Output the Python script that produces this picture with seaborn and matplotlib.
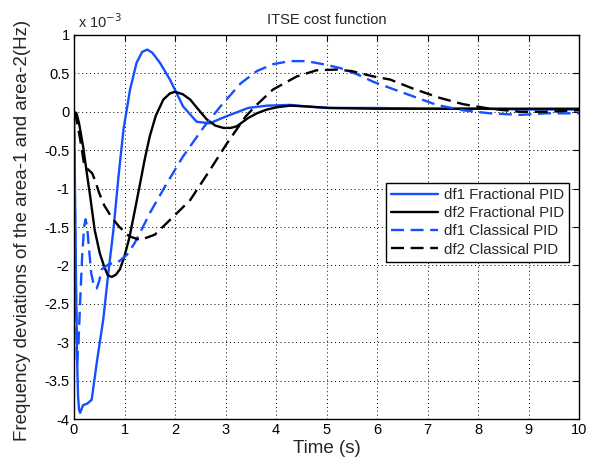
import numpy as np
import pandas as pd
import matplotlib
matplotlib.use('Agg')
import matplotlib.pyplot as plt
import seaborn as sns

# values, y in units of 1e-3 Hz
t_df1_frac = [0, 0.02, 0.04, 0.06, 0.08, 0.1, 0.12, 0.18, 0.26, 0.35, 0.45, 0.58, 0.68, 0.78, 0.88, 0.98,
              1.11, 1.24, 1.35, 1.45, 1.55, 1.7, 1.9, 2.16, 2.43, 2.69, 2.9, 3.09, 3.45, 3.82, 4.28, 4.6,
              5.0, 6.0, 7.0, 8.0, 9.0, 10.0]
y_df1_frac = [0, -1.0, -2.2, -3.2, -3.7, -3.88, -3.92, -3.82, -3.8, -3.75, -3.27, -2.7, -2.1, -1.54, -0.85, -0.23,
              0.29, 0.64, 0.78, 0.81, 0.77, 0.64, 0.42, 0.07, -0.13, -0.15, -0.09, -0.04, 0.05, 0.08, 0.09, 0.07,
              0.05, 0.05, 0.04, 0.04, 0.03, 0.03]

t_df2_frac = [0, 0.05, 0.1, 0.18, 0.25, 0.32, 0.41, 0.51, 0.6, 0.67, 0.75, 0.83, 0.91, 1.0, 1.1, 1.2, 1.31,
              1.4, 1.5, 1.62, 1.77, 1.9, 2.0, 2.15, 2.3, 2.45, 2.63, 2.8, 2.96, 3.1, 3.22, 3.45, 3.62, 3.82,
              4.02, 4.28, 4.6, 5.07, 6, 7, 8, 9, 10]
y_df2_frac = [0, -0.02, -0.15, -0.45, -0.78, -1.1, -1.54, -1.84, -2.02, -2.13, -2.15, -2.12, -2.05, -1.88, -1.63,
              -1.3, -0.93, -0.62, -0.32, -0.05, 0.16, 0.24, 0.26, 0.23, 0.16, 0.04, -0.1, -0.18, -0.21, -0.21,
              -0.19, -0.08, -0.02, 0.03, 0.06, 0.08, 0.07, 0.05, 0.04, 0.04, 0.04, 0.04, 0.04]

t_df1_cls = [0, 0.03, 0.06, 0.09, 0.12, 0.16, 0.2, 0.23, 0.26, 0.3, 0.34, 0.4, 0.45, 0.5, 0.55, 0.7, 0.85,
             1.05, 1.2, 1.35, 1.5, 1.84, 2.16, 2.58, 2.9, 3.3, 3.62, 3.94, 4.28, 4.6, 4.93, 5.27, 5.6, 5.93,
             6.26, 6.72, 7.18, 7.7, 8.24, 8.83, 9.36, 10]
y_df1_cls = [0, -2.0, -3.3, -3.0, -2.5, -1.9, -1.5, -1.4, -1.5, -1.8, -2.1, -2.28, -2.3, -2.2, -2.05, -1.98,
             -1.97, -1.86, -1.71, -1.52, -1.32, -0.93, -0.58, -0.19, 0.07, 0.37, 0.53, 0.62, 0.66, 0.66, 0.62,
             0.57, 0.49, 0.39, 0.31, 0.2, 0.09, 0.02, -0.02, -0.04, -0.02, -0.02]

t_df2_cls = [0, 0.05, 0.12, 0.2, 0.26, 0.36, 0.42, 0.5, 0.6, 0.75, 0.9, 1.09, 1.31, 1.6, 1.96, 2.3, 2.69,
             3.03, 3.22, 3.4, 3.6, 3.94, 4.41, 4.8, 5.2, 5.5, 5.93, 6.26, 6.72, 7.25, 7.7, 8.24, 8.83, 9.36, 10]
y_df2_cls = [0, -0.1, -0.35, -0.68, -0.74, -0.8, -0.9, -1.06, -1.22, -1.38, -1.5, -1.62, -1.67, -1.6, -1.37,
             -1.15, -0.76, -0.41, -0.23, -0.06, 0.08, 0.29, 0.46, 0.54, 0.55, 0.53, 0.46, 0.42, 0.3, 0.18, 0.1,
             0.04, 0.0, 0.0, 0.02]

labels = ['df1 Fractional PID', 'df2 Fractional PID', 'df1 Classical PID', 'df2 Classical PID']

sns.set_theme(style='white')
plt.rcParams['font.family'] = ['Liberation Sans', 'DejaVu Sans']

blue = '#1450ff'
dash = (0, (5.5, 2.8))
lw = 1.7

fig = plt.figure(figsize=(5.97, 4.61), dpi=100)
ax = fig.add_axes([74 / 597, 42 / 461, 505 / 597, 384 / 461])

sns.lineplot(x=t_df1_frac, y=y_df1_frac, color=blue, lw=lw, label=labels[0], ax=ax)
sns.lineplot(x=t_df2_frac, y=y_df2_frac, color='black', lw=lw, label=labels[1], ax=ax)
sns.lineplot(x=t_df1_cls, y=y_df1_cls, color=blue, lw=lw, linestyle=dash, label=labels[2], ax=ax)
sns.lineplot(x=t_df2_cls, y=y_df2_cls, color='black', lw=lw, linestyle=dash, label=labels[3], ax=ax)

ax.set_xlim(0, 10)
ax.set_ylim(-4, 1)
ax.set_xticks(range(0, 11))
ax.set_yticks(np.arange(-4, 1.01, 0.5))
ax.set_yticklabels(['-4', '-3.5', '-3', '-2.5', '-2', '-1.5', '-1', '-0.5', '0', '0.5', '1'])
ax.grid(True, color='black', linestyle=(0, (1, 3)), lw=0.7)
ax.tick_params(direction='in', top=True, right=True, length=4, width=0.8,
               labelsize=10.5, color='black', labelcolor='black', pad=3)
for s in ax.spines.values():
    s.set_color('black')
    s.set_linewidth(1)

ax.set_title('ITSE cost function', fontsize=10.5, pad=8)
ax.set_xlabel('Time (s)', fontsize=13.5)
ax.set_ylabel('Frequency deviations of the area-1 and area-2(Hz)', fontsize=13.5)
ax.xaxis.set_label_coords(0.5, -0.055)
ax.yaxis.set_label_coords(-0.085, 0.49)
fig.text(78 / 597, 1 - 28 / 461, 'x 10$^{-3}$', fontsize=10.5, va='baseline', ha='left')

leg = ax.legend(loc='upper left', bbox_to_anchor=(0.618, 0.615), fontsize=10.8, frameon=True,
                fancybox=False, framealpha=1, edgecolor='black', handlelength=3.1,
                handletextpad=0.4, labelspacing=0.28, borderpad=0.35, borderaxespad=0)
leg.get_frame().set_linewidth(1)

fig.savefig('out.png', dpi=100)
